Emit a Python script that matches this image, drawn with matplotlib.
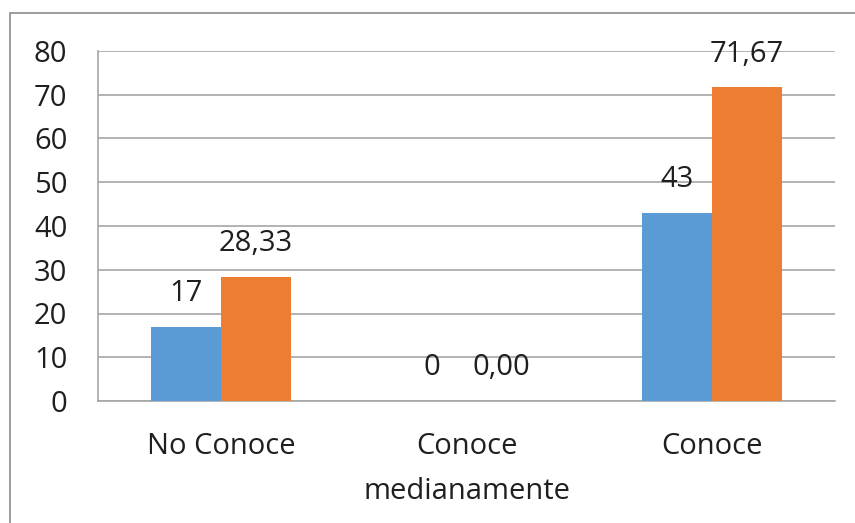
import matplotlib.pyplot as plt
import numpy as np
from matplotlib.patches import Rectangle

categories = ["No Conoce", "Conoce\nmedianamente", "Conoce"]
frecuencia = [17, 0, 43]
porcentaje = [28.33, 0.00, 71.67]
freq_labels = ["17", "0", "43"]
pct_labels = ["28,33", "0,00", "71,67"]
yticks = [0, 10, 20, 30, 40, 50, 60, 70, 80]

plt.rcParams['font.family'] = ['Open Sans', 'DejaVu Sans']
text_color = '#1f1f1f'
grid_color = '#a6a6a6'
fs = 21

fig = plt.figure(figsize=(8.55, 5.23), dpi=100)

# outer chart frame
fig.patches.append(Rectangle((10 / 855, -0.1), 1.2, 1.1 - 13 / 523,
                             transform=fig.transFigure, fill=False,
                             edgecolor='#8c8c8c', linewidth=1.2))

ax = fig.add_axes([98 / 855, 1 - 401 / 523, 737 / 855, 350 / 523])

x = np.arange(len(categories))
w = 0.285
b1 = ax.bar(x - w / 2, frecuencia, w, color='#5B9BD5', zorder=3)
b2 = ax.bar(x + w / 2, porcentaje, w, color='#ED7D31', zorder=3)

for rects, labels in ((b1, freq_labels), (b2, pct_labels)):
    for r, lab in zip(rects, labels):
        ax.annotate(lab, (r.get_x() + r.get_width() / 2, r.get_height()),
                    xytext=(0, 24), textcoords='offset points',
                    ha='center', va='center', fontsize=fs, color=text_color)

ax.set_xlim(-0.5, 2.5)
ax.set_ylim(0, 80)
ax.set_yticks(yticks)
ax.set_xticks(x)
ax.set_xticklabels(categories, fontsize=fs, color=text_color, linespacing=1.75)
ax.tick_params(axis='y', length=0, pad=22, labelsize=fs, labelcolor=text_color)
ax.tick_params(axis='x', length=0, pad=22)

ax.grid(axis='y', color=grid_color, linewidth=1.2, zorder=0)
for s in ('top', 'right'):
    ax.spines[s].set_visible(False)
ax.spines['left'].set_color(grid_color)
ax.spines['bottom'].set_color(grid_color)
ax.spines['left'].set_linewidth(1.2)
ax.spines['bottom'].set_linewidth(1.2)

plt.savefig("out.png", dpi=100)
